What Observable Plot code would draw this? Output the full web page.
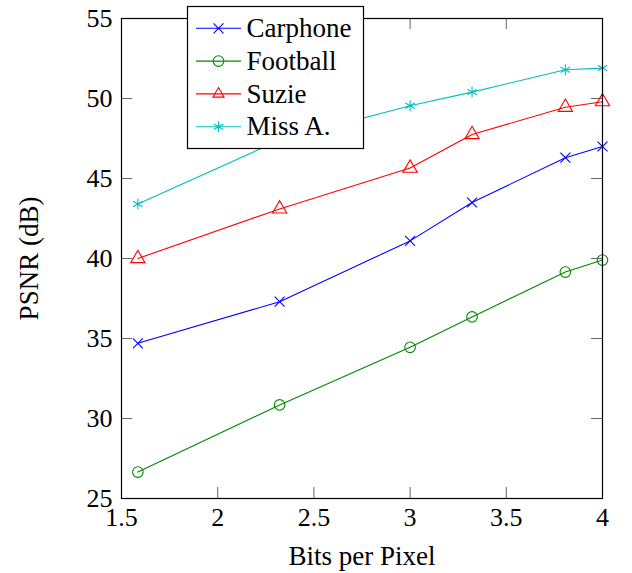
<!DOCTYPE html>
<html>
<head>
<meta charset="utf-8">
<script src="https://cdn.jsdelivr.net/npm/d3@7"></script>
<script src="https://cdn.jsdelivr.net/npm/@observablehq/plot@0.6"></script>
<style>
  html, body { margin: 0; padding: 0; background: #fff; }
  #chart svg { display: block; }
</style>
</head>
<body>
<div id="chart"></div>
<script>
// ---- data ----
const bpp = [1.585, 2.322, 3, 3.322, 3.807, 4];
const carphone = [34.7, 37.3, 41.1, 43.5, 46.3, 47.0];
const football = [26.65, 30.85, 34.45, 36.35, 39.15, 39.9];
const suzie = [40.0, 43.1, 45.65, 47.75, 49.45, 49.8];
const missA = [43.4, 47.4, 49.55, 50.4, 51.8, 51.9];

const seriesNames = ["Carphone", "Football", "Suzie", "Miss A."];
const seriesValues = [carphone, football, suzie, missA];
const seriesColors = ["#0000ff", "#008800", "#ff0000", "#00bfbf"];
const seriesSymbols = ["times", "circle", "triangle", "asterisk"];
const seriesR = [4.6, 5.3, 5.3, 5.2];

const xTicks = [1.5, 2, 2.5, 3, 3.5, 4];
const yTicks = [25, 30, 35, 40, 45, 50, 55];
const xLabel = "Bits per Pixel";
const yLabel = "PSNR (dB)";

// ---- build ----
const W = 632, H = 573;
const mL = 121, mR = 30, mT = 18, mB = 75;
const innerH = H - mT - mB, innerW = W - mL - mR;
const tickLen = 11;
const font = "'Liberation Serif', 'Times New Roman', serif";

const rows = seriesNames.flatMap((name, i) =>
  bpp.map((x, j) => ({series: name, x, y: seriesValues[i][j]}))
);

const marks = [];
// inward ticks on all four sides
marks.push(Plot.ruleX(xTicks, {x: d => d, insetTop: innerH - tickLen, stroke: "#666", strokeWidth: 1}));
marks.push(Plot.ruleX(xTicks, {x: d => d, insetBottom: innerH - tickLen, stroke: "#666", strokeWidth: 1}));
marks.push(Plot.ruleY(yTicks, {y: d => d, insetRight: innerW - tickLen, stroke: "#666", strokeWidth: 1}));
marks.push(Plot.ruleY(yTicks, {y: d => d, insetLeft: innerW - tickLen, stroke: "#666", strokeWidth: 1}));

seriesNames.forEach((name, i) => {
  const data = rows.filter(d => d.series === name);
  marks.push(Plot.line(data, {x: "x", y: "y", stroke: seriesColors[i], strokeWidth: 1.1}));
  marks.push(Plot.dot(data, {x: "x", y: "y", stroke: seriesColors[i], symbol: seriesSymbols[i], r: seriesR[i], strokeWidth: 1.1, fill: "none"}));
});

marks.push(Plot.frame({stroke: "#000", strokeWidth: 1.2}));
marks.push(Plot.axisX(xTicks, {tickSize: 0, tickPadding: 9, fontSize: 26, label: null, fill: "#000", tickFormat: d => String(d)}));
marks.push(Plot.axisY(yTicks, {tickSize: 0, tickPadding: 9, fontSize: 26, label: null, fill: "#000", tickFormat: d => String(d)}));
marks.push(Plot.text([xLabel], {frameAnchor: "bottom", lineAnchor: "middle", textAnchor: "middle", dy: 58, fontSize: 27, fill: "#000"}));
marks.push(Plot.text([yLabel], {frameAnchor: "left", lineAnchor: "middle", textAnchor: "middle", dx: -92, rotate: -90, fontSize: 27, fill: "#000"}));

const chart = Plot.plot({
  width: W, height: H,
  marginLeft: mL, marginRight: mR, marginTop: mT, marginBottom: mB,
  style: {fontFamily: font, background: "#fff", overflow: "visible"},
  x: {domain: [1.5, 4]},
  y: {domain: [25, 55]},
  marks
});
document.getElementById("chart").appendChild(chart);

// ---- legend (inside the SVG, upper left, overlapping the frame top) ----
const svg = d3.select(chart);
const lg = svg.append("g").attr("font-family", font).attr("text-anchor", "start");
const box = {x: 187.5, y: 6.5, w: 176, h: 142};
lg.append("rect").attr("x", box.x).attr("y", box.y).attr("width", box.w).attr("height", box.h)
  .attr("fill", "#fff").attr("stroke", "#000").attr("stroke-width", 1.2);
const symMap = {times: d3.symbolTimes, circle: d3.symbolCircle, triangle: d3.symbolTriangle2, asterisk: d3.symbolAsterisk};
seriesNames.forEach((name, i) => {
  const cy = 28.3 + i * 32.8;
  const g = lg.append("g");
  g.append("line").attr("x1", 196).attr("x2", 241).attr("y1", cy).attr("y2", cy)
    .attr("stroke", seriesColors[i]).attr("stroke-width", 1.1);
  g.append("path")
    .attr("d", d3.symbol(symMap[seriesSymbols[i]], Math.PI * seriesR[i] * seriesR[i])())
    .attr("transform", `translate(218.5,${cy})`)
    .attr("fill", "none").attr("stroke", seriesColors[i]).attr("stroke-width", 1.1);
  g.append("text").attr("x", 246.5).attr("y", cy).attr("dy", "0.32em")
    .attr("font-size", 27).attr("fill", "#000").attr("text-anchor", "start").text(name);
});
</script>
</body>
</html>
